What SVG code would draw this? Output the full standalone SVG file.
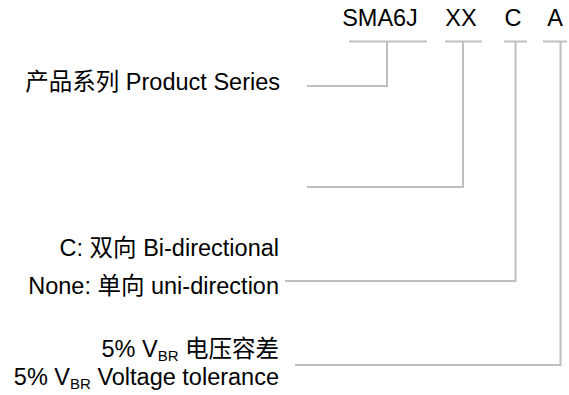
<svg xmlns="http://www.w3.org/2000/svg" width="569" height="395" viewBox="0 0 569 395">
<style>
  text { font-family: "Liberation Sans", "Noto Sans CJK SC", sans-serif; font-size: 23.5px; fill: #000; }
  .lbl { text-anchor: end; }
  .code { text-anchor: middle; }
  .sub { font-size: 15px; }
  .ln { fill: none; stroke: #bfbfbf; stroke-width: 2; }
</style>
<rect width="569" height="395" fill="#fff"/>
<g id="code-sma6j"><text class="code" x="380" y="26">SMA6J</text></g>
<g id="code-xx"><text class="code" x="461" y="26">XX</text></g>
<g id="code-c"><text class="code" x="513" y="26">C</text></g>
<g id="code-a"><text class="code" x="555" y="26">A</text></g>
<g id="label-series"><text class="lbl" x="280" y="90">产品系列 Product Series</text></g>
<g id="label-direction">
  <text class="lbl" x="279" y="256">C: 双向 Bi-directional</text>
  <text class="lbl" x="279" y="294">None: 单向 uni-direction</text>
</g>
<g id="label-tolerance">
  <text class="lbl" x="279" y="357">5% V<tspan class="sub" dy="4">BR</tspan><tspan dy="-4"> 电压容差</tspan></text>
  <text class="lbl" x="279" y="385">5% V<tspan class="sub" dy="4">BR</tspan><tspan dy="-4"> Voltage tolerance</tspan></text>
</g>
<g id="connectors">
  <path class="ln" d="M349 41.5H427M387 41.5V86H307"/>
  <path class="ln" d="M445 41.5H482M463 41.5V187H307"/>
  <path class="ln" d="M504 41.5H527M515.5 41.5V281H285"/>
  <path class="ln" d="M543 41.5H567M560.5 41.5V365H295"/>
</g>
</svg>
